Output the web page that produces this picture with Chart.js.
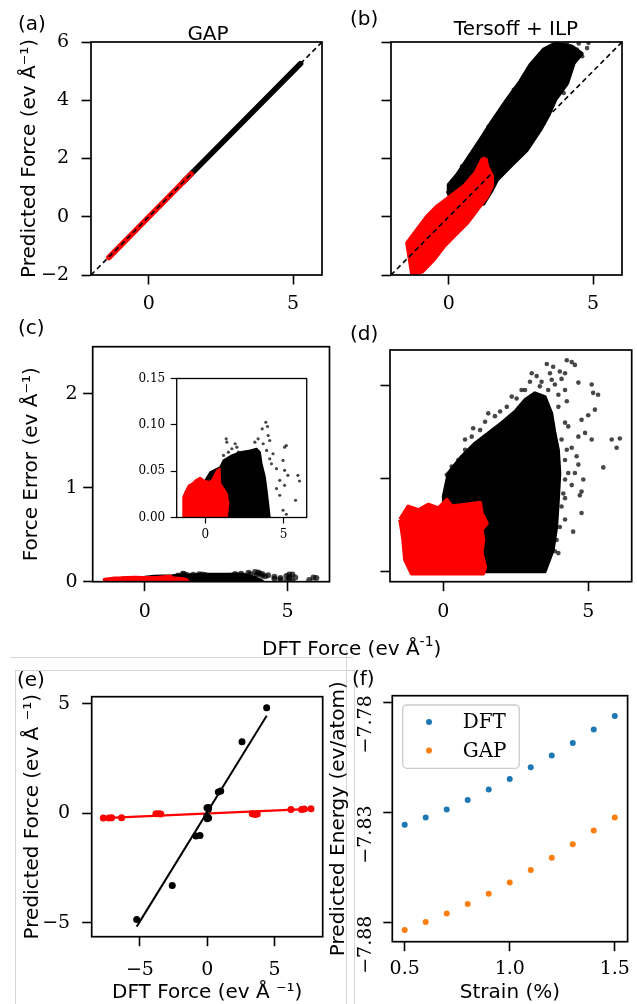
<!DOCTYPE html>
<html lang="en">
<head>
<meta charset="UTF-8">
<title>GAP vs Tersoff + ILP forces</title>
<script src="https://cdn.jsdelivr.net/npm/chart.js"></script>
<style>
  body { margin: 0; background: #fff; font-family: 'DejaVu Sans', sans-serif; }
  #page { position: relative; width: 637px; height: 1004px; overflow: hidden; }
  canvas { position: absolute; }
  .lbl { position: absolute; font-size: 20px; line-height: 20px; color: #000; white-space: nowrap; }
  .lbl sup { font-size: 14px; line-height: 0; vertical-align: 9px; }
  .rule { position: absolute; background: #d6d6d6; }
</style>
</head>
<body>
<div id="page">
  <!-- light frame lines left over from the composed figure -->
  <div class="rule" style="left:10px;top:657px;width:343px;height:1px"></div>
  <div class="rule" style="left:15px;top:670px;width:340px;height:1px"></div>
  <div class="rule" style="left:15px;top:670px;width:1px;height:334px"></div>
  <div class="rule" style="left:354px;top:670px;width:1px;height:334px"></div>
  <div class="rule" style="left:346px;top:650px;width:1px;height:354px"></div>

  <canvas id="pa" width="330" height="320" style="left:0;top:0"></canvas>
  <canvas id="pb" width="307" height="320" style="left:330px;top:0"></canvas>
  <canvas id="pc" width="340" height="330" style="left:0;top:310px"></canvas>
  <canvas id="pd" width="297" height="330" style="left:340px;top:310px"></canvas>
  <canvas id="pinset" width="205" height="185" style="left:110px;top:365px"></canvas>
  <canvas id="pe" width="340" height="344" style="left:0;top:660px"></canvas>
  <canvas id="pf" width="317" height="344" style="left:320px;top:660px"></canvas>

  <div class="lbl" style="left:18px;top:13px">(a)</div>
  <div class="lbl" style="left:158px;top:23px;width:100px;text-align:center">GAP</div>
  <div class="lbl" style="left:350px;top:8px">(b)</div>
  <div class="lbl" style="left:436px;top:18px;width:160px;text-align:center">Tersoff + ILP</div>
  <div class="lbl" style="left:18px;top:317px">(c)</div>
  <div class="lbl" style="left:350px;top:323px">(d)</div>
  <div class="lbl" style="left:262px;top:638px">DFT Force (ev Å<sup>-1</sup>)</div>
  <div class="lbl" style="left:17px;top:669px">(e)</div>
  <div class="lbl" style="left:352px;top:668px">(f)</div>
</div>

<script>
    const SANS = "'DejaVu Sans', sans-serif";
    const SERIF = "'DejaVu Serif', serif";

    // ---- (a) GAP: predicted vs DFT force ----
    const diagX = [-2, 6];
    const diagY = [-2, 6];
    const aBlackX = [1.20, 5.26];
    const aBlackY = [1.20, 5.26];
    const aRedX = [-1.38, 1.47];
    const aRedY = [-1.40, 1.47];
    const forceTicksX = [0, 5];
    const forceTicksY = [-2, 0, 2, 4, 6];

    // ---- (b) Tersoff + ILP: outlines of the dense clouds + loose points ----
    const bBlackCloud = [[0.10, 0.55], [-0.02, 0.85], [0.00, 1.10], [0.29, 1.44], [0.64, 1.96], [1.10, 2.65],
        [1.50, 3.27], [2.02, 4.02], [2.48, 4.65], [2.83, 5.22], [3.29, 5.74], [3.70, 5.95], [4.25, 5.85],
        [4.60, 5.60], [4.33, 5.28], [4.10, 4.59], [3.69, 4.02], [3.46, 3.50], [3.17, 2.99], [2.71, 2.30],
        [2.13, 1.73], [1.67, 1.27], [1.50, 0.93], [1.20, 0.45]];
    const bBlackLoose = [[4.44, 5.74], [4.79, 5.79], [4.84, 5.97], [4.62, 5.51], [4.33, 5.33], [3.98, 5.11],
        [3.81, 4.76], [4.04, 4.53], [3.92, 5.85], [3.69, 5.28], [0.12, 1.21], [0.46, 1.73], [1.16, 2.65],
        [2.60, 4.82], [4.50, 5.95], [4.10, 5.98], [0.75, 2.07], [0.98, 2.42], [1.38, 3.10], [1.85, 3.68],
        [2.25, 4.36], [2.71, 4.88], [3.06, 5.39], [3.98, 4.25], [3.29, 3.22], [2.37, 2.07], [1.90, 1.62]];
    const bRedCloud = [[1.27, 2.02], [1.33, 1.73], [1.50, 1.39], [1.50, 1.07], [1.33, 0.70], [0.98, 0.24],
        [0.64, -0.21], [0.17, -0.67], [-0.17, -1.02], [-0.52, -1.47], [-0.92, -1.88], [-1.27, -1.97],
        [-1.33, -1.59], [-1.44, -0.90], [-1.09, -0.44], [-0.75, 0.01], [-0.40, 0.36], [0.06, 0.70],
        [0.52, 1.04], [0.92, 1.50], [1.16, 1.96]];

    // ---- (c) GAP force error (main plot and inset share the same data) ----
    const cRedCloud = [[-1.37, 0.0], [-1.41, 0.022], [-1.27, 0.0275], [-1.06, 0.0347], [-0.84, 0.0365],
        [-0.63, 0.0401], [-0.32, 0.043], [-0.11, 0.0401], [0.21, 0.0383], [0.42, 0.0401], [0.74, 0.0509],
        [0.91, 0.0527], [0.95, 0.0365], [1.16, 0.0312], [1.37, 0.0258], [1.47, 0.015], [1.37, 0.0]];
    const cBlackCloud = [[0.0, 0.0], [0.0, 0.0401], [0.32, 0.049], [0.95, 0.0544], [1.16, 0.0616],
        [1.69, 0.067], [2.22, 0.0705], [2.85, 0.0724], [3.27, 0.0742], [3.48, 0.0705], [3.59, 0.058],
        [3.80, 0.0437], [3.91, 0.0294], [4.01, 0.015], [4.11, 0.0]];
    const cBlackLoose = [[3.86, 0.1028], [3.97, 0.0982], [3.63, 0.0957], [4.01, 0.0885], [4.11, 0.0831],
        [5.06, 0.0759], [5.17, 0.0777], [1.33, 0.0849], [1.37, 0.0813], [1.69, 0.0742], [1.90, 0.0796],
        [2.01, 0.0759], [2.11, 0.0705], [3.16, 0.0813], [3.37, 0.0849], [3.69, 0.0796], [4.11, 0.0634],
        [4.22, 0.058], [4.54, 0.0527], [4.96, 0.0616], [5.06, 0.0509], [5.27, 0.0455], [5.91, 0.0455],
        [6.01, 0.0394], [5.76, 0.0186], [5.06, 0.0347], [4.75, 0.024], [4.54, 0.0312], [4.96, 0.0078],
        [5.17, 0.0035], [1.16, 0.067], [1.47, 0.0705], [4.75, 0.0401], [4.32, 0.0688], [3.91, 0.0724]];
    const errTicksY = [0, 1, 2];
    const insetTicksY = [0, 0.05, 0.10, 0.15];

    // ---- (d) Tersoff + ILP force error ----
    const dBlackCloud = [[0.06, 0.0], [0.00, 0.81], [0.17, 1.06], [0.63, 1.24], [1.09, 1.38], [1.55, 1.49],
        [2.01, 1.60], [2.47, 1.72], [2.82, 1.85], [3.16, 1.92], [3.51, 1.88], [3.74, 1.70], [3.85, 1.49],
        [3.97, 1.31], [4.02, 1.06], [3.97, 0.77], [3.91, 0.48], [3.79, 0.23], [3.51, 0.0]];
    const dBlackLoose = [[3.57, 2.23], [3.79, 2.20], [4.26, 2.27], [4.43, 2.25], [4.54, 2.22], [3.05, 2.13],
        [3.39, 2.04], [3.74, 2.06], [4.08, 2.07], [4.20, 1.95], [4.66, 2.03], [5.12, 2.01], [5.17, 1.92],
        [5.34, 1.90], [4.26, 1.83], [3.97, 1.90], [2.36, 1.88], [2.70, 1.95], [1.96, 1.72], [1.55, 1.70],
        [1.03, 1.54], [0.75, 1.42], [1.44, 1.61], [4.77, 1.63], [5.23, 1.74], [5.00, 1.68], [4.89, 1.49],
        [4.66, 1.45], [5.12, 1.42], [5.81, 1.42], [6.09, 1.43], [5.98, 1.33], [4.43, 1.33], [4.60, 1.24],
        [4.66, 1.15], [5.52, 1.12], [4.54, 1.06], [4.83, 0.99], [4.43, 0.93], [4.20, 0.79], [4.77, 0.86],
        [4.71, 0.82], [4.77, 0.63], [4.48, 0.43], [3.97, 0.20], [3.74, 0.34], [0.40, 0.84], [0.17, 0.95],
        [0.46, 1.08], [0.12, 1.04], [0.75, 1.31], [0.52, 1.20], [0.29, 1.13], [0.23, 0.99], [0.98, 1.45],
        [1.27, 1.52], [1.78, 1.67], [2.19, 1.77], [2.53, 1.86], [2.82, 1.95], [2.99, 2.04], [3.22, 2.10],
        [3.33, 1.99], [3.62, 1.95], [3.85, 2.01], [4.02, 2.15], [4.20, 2.13], [3.68, 2.13], [3.97, 1.77],
        [4.20, 1.60], [4.31, 1.56], [4.08, 1.42], [4.26, 1.31], [4.20, 1.20], [4.31, 1.06], [4.20, 0.99],
        [4.14, 0.84], [4.08, 0.70], [4.20, 0.56], [4.02, 0.48], [3.91, 0.34], [3.85, 0.22], [3.62, 0.13]];
    const dRedCloud = [[-1.49, 0.56], [-1.21, 0.70], [-0.86, 0.66], [-0.52, 0.72], [-0.17, 0.68], [0.12, 0.77],
        [0.29, 0.70], [0.75, 0.72], [1.27, 0.74], [1.32, 0.63], [1.50, 0.52], [1.32, 0.45], [1.38, 0.34],
        [1.32, 0.20], [1.44, 0.05], [1.38, -0.02], [-1.09, -0.02], [-1.32, 0.13], [-1.38, 0.34], [-1.43, 0.45]];

    // ---- (e) single-configuration test ----
    const eBlackDft = [-5.24, -2.60, -0.84, -0.54, -0.02, 0.10, 0.08, -0.03, 0.00, 0.10, 0.82, 1.00, 2.58, 4.41];
    const eBlackPred = [-4.85, -3.30, -1.04, -1.01, 0.25, 0.27, 0.18, -0.12, -0.25, -0.22, 0.97, 1.02, 3.27, 4.83];
    const eRedDft = [-7.72, -7.30, -7.10, -6.36, -3.81, -3.60, -3.45, 3.34, 3.55, 3.71, 6.21, 7.00, 7.20, 7.70];
    const eRedPred = [-0.21, -0.22, -0.20, -0.20, -0.02, -0.02, -0.03, -0.02, -0.05, -0.03, 0.17, 0.17, 0.20, 0.21];
    const eBlackFitX = [-5.24, 4.41];
    const eBlackFitY = [-5.18, 4.46];
    const eRedFitX = [-7.72, 7.70];
    const eRedFitY = [-0.22, 0.20];
    const eTicks = [-5, 0, 5];

    // ---- (f) energy vs strain ----
    const strain = [0.5, 0.6, 0.7, 0.8, 0.9, 1.0, 1.1, 1.2, 1.3, 1.4, 1.5];
    const dftEnergy = [-7.8355, -7.8322, -7.8286, -7.8243, -7.8196, -7.8148, -7.8095, -7.8041, -7.7985, -7.7923, -7.7862];
    const gapEnergy = [-7.8833, -7.8797, -7.8758, -7.8715, -7.8668, -7.8617, -7.8561, -7.8505, -7.8444, -7.8382, -7.8322];
    const strainTicks = [0.5, 1.0, 1.5];
    const energyTicks = [-7.88, -7.83, -7.78];

    // ---------- helpers ----------
    function fmt(v, dec) {
        return (v < 0 ? '\u2212' : '') + Math.abs(v).toFixed(dec);
    }
    function pts(pairs) { return pairs.map(p => ({ x: p[0], y: p[1] })); }
    function xy(xs, ys) { return xs.map((x, i) => ({ x: x, y: ys[i] })); }

    // filled outline of a dense point cloud
    function cloud(pairs, color, bw, order) {
        return {
            data: pts(pairs.concat([pairs[0]])), showLine: true, fill: 'shape',
            backgroundColor: color, borderColor: color, borderWidth: bw,
            borderJoinStyle: 'round', pointRadius: 0, order: order
        };
    }
    function dots(data, color, r, order) {
        return { data: data, backgroundColor: color, borderWidth: 0, pointRadius: r, order: order };
    }
    function line(xs, ys, color, width, dash, order, cap) {
        return {
            data: xy(xs, ys), showLine: true, fill: false, borderColor: color, borderWidth: width,
            borderDash: dash || [], borderCapStyle: cap || 'butt', pointRadius: 0, order: order
        };
    }

    function axis(min, max, ticks, o) {
        return {
            type: 'linear', min: min, max: max,
            afterBuildTicks: s => { s.ticks = ticks.map(v => ({ value: v })); },
            afterFit: s => { if (s.isHorizontal()) s.height = o.size; else s.width = o.size; },
            grid: { drawOnChartArea: false, drawTicks: true, tickLength: o.tick || 9.5, tickWidth: o.tickWidth || 1.6, tickColor: '#000' },
            border: { display: false },
            ticks: {
                display: o.labels !== false, autoSkip: false, maxRotation: 0, color: '#000',
                font: { family: SERIF, size: o.font || 19 }, padding: o.pad,
                callback: v => fmt(v, o.dec || 0)
            },
            title: o.title ? {
                display: true, text: o.title, color: '#000',
                font: { family: SANS, size: 20, lineHeight: 1 }, padding: o.titlePad
            } : { display: false }
        };
    }

    // plot box drawn on top like matplotlib spines
    Chart.register({
        id: 'frame',
        afterDraw(chart, args, opts) {
            const a = chart.chartArea, ctx = chart.ctx;
            ctx.save();
            ctx.strokeStyle = '#000';
            ctx.lineWidth = opts.width || 1.7;
            ctx.strokeRect(a.left, a.top, a.right - a.left, a.bottom - a.top);
            ctx.restore();
        }
    });

    function panel(id, datasets, x, y, padding, extraPlugins, frameWidth) {
        return new Chart(document.getElementById(id), {
            type: 'scatter',
            data: { datasets: datasets },
            options: {
                responsive: false, animation: false, events: [],
                layout: { padding: padding },
                scales: { x: x, y: y },
                plugins: { legend: { display: false }, tooltip: { enabled: false }, frame: { width: frameWidth } }
            },
            plugins: extraPlugins || []
        });
    }

    const RED = '#ff0000';
    const BLACK = '#000000';
    const LOOSE = 'rgba(0,0,0,0.72)';

    // (a)
    panel('pa', [
        line(diagX, diagY, BLACK, 1.6, [5, 3.5], 0),
        line(aRedX, aRedY, RED, 5.5, null, 1, 'round'),
        line(aBlackX, aBlackY, BLACK, 5.5, null, 2, 'round')
    ],
        axis(-2, 6, forceTicksX, { size: 45, pad: 8 }),
        axis(-2, 6, forceTicksY, { size: 91, pad: 12.5, title: 'Predicted Force (ev Å⁻¹)', titlePad: { top: 20, bottom: 0 } }),
        { left: 0, right: 8, top: 42, bottom: 0 });

    // (b)
    panel('pb', [
        line(diagX, diagY, BLACK, 1.6, [5, 3.5], 0),
        cloud(bRedCloud, RED, 4, 1),
        cloud(bBlackCloud, BLACK, 4, 2),
        dots(pts(bBlackLoose), LOOSE, 2.3, 3)
    ],
        axis(-2, 6, forceTicksX, { size: 45, pad: 8 }),
        axis(-2, 6, forceTicksY, { size: 61, labels: false }),
        { left: 0, right: 15, top: 42, bottom: 0 });

    // (c) main
    panel('pc', [
        cloud(cRedCloud, RED, 4, 1),
        cloud(cBlackCloud, BLACK, 4.5, 2),
        dots(pts(cBlackLoose), LOOSE, 3, 3)
    ],
        axis(-1.83, 6.47, forceTicksX, { size: 58.3, pad: 9.4 }),
        axis(0, 2.5, errTicksY, { size: 92.7, pad: 5.5, title: 'Force Error (ev Å⁻¹)', titlePad: { top: 22, bottom: 0 } }),
        { left: 0, right: 10.5, top: 36.7, bottom: 0 });

    // (c) inset
    panel('pinset', [
        cloud(cRedCloud, RED, 2, 1),
        cloud(cBlackCloud, BLACK, 2, 2),
        dots(pts(cBlackLoose), LOOSE, 1.6, 3)
    ],
        axis(-1.83, 6.47, forceTicksX, { size: 32.5, tick: 6, tickWidth: 1.2, font: 12, pad: 4.3 }),
        axis(0, 0.15, insetTicksY, { size: 66.7, tick: 6, tickWidth: 1.2, font: 12, pad: 5.5, dec: 2 }),
        { left: 0, right: 8.3, top: 13.5, bottom: 0 }, [], 1.3);

    // (d)
    panel('pd', [
        cloud(dRedCloud, RED, 4, 1),
        cloud(dBlackCloud, BLACK, 3, 2),
        dots(pts(dBlackLoose), LOOSE, 2.3, 3)
    ],
        axis(-1.84, 6.5, forceTicksX, { size: 58.3, pad: 9.4 }),
        axis(-0.107, 2.38, errTicksY, { size: 50, labels: false }),
        { left: 0, right: 5.3, top: 40, bottom: 0 });

    // (e)
    panel('pe', [
        dots(xy(eBlackDft, eBlackPred), BLACK, 3.5, 0),
        dots(xy(eRedDft, eRedPred), RED, 3.5, 1),
        line(eBlackFitX, eBlackFitY, BLACK, 2, null, 2),
        line(eRedFitX, eRedFitY, RED, 2.2, null, 3)
    ],
        axis(-8.58, 8.57, eTicks, { size: 67.3, pad: 12.9, title: 'DFT Force (ev Å ⁻¹)', titlePad: { top: 0, bottom: 1 } }),
        axis(-5.64, 5.33, eTicks, { size: 91.7, pad: 12, title: 'Predicted Force (ev Å ⁻¹)', titlePad: { top: 23, bottom: 0 } }),
        { left: 0, right: 17.3, top: 36.7, bottom: 0 });

    // (f): rotated y tick labels and an inset legend box
    const rotatedYLabels = {
        id: 'rotatedYLabels',
        afterDraw(chart) {
            const s = chart.scales.y, ctx = chart.ctx;
            ctx.save();
            ctx.fillStyle = '#000';
            ctx.font = '19px ' + SERIF;
            ctx.textAlign = 'center';
            ctx.textBaseline = 'middle';
            s.ticks.forEach(t => {
                ctx.save();
                ctx.translate(s.right - 26.3, s.getPixelForValue(t.value) + 22);
                ctx.rotate(-Math.PI / 2);
                ctx.fillText(fmt(t.value, 2), 0, 0);
                ctx.restore();
            });
            ctx.restore();
        }
    };
    const boxLegend = {
        id: 'boxLegend',
        afterDraw(chart) {
            const a = chart.chartArea, ctx = chart.ctx;
            const x = a.left + 10.4, y = a.top + 9.3, w = 116.6, h = 63.3;
            ctx.save();
            ctx.beginPath();
            ctx.roundRect(x, y, w, h, 4);
            ctx.fillStyle = 'rgba(255,255,255,0.8)';
            ctx.fill();
            ctx.strokeStyle = '#cccccc';
            ctx.lineWidth = 1.3;
            ctx.stroke();
            ctx.font = '20px ' + SERIF;
            ctx.textBaseline = 'middle';
            chart.data.datasets.forEach((ds, i) => {
                const cy = y + 17 + i * 28.6;
                ctx.beginPath();
                ctx.arc(x + 26.3, cy, 3, 0, 2 * Math.PI);
                ctx.fillStyle = ds.backgroundColor;
                ctx.fill();
                ctx.fillStyle = '#000';
                ctx.fillText(ds.label, x + 60, cy + 1);
            });
            ctx.restore();
        }
    };
    const fDatasets = [
        Object.assign(dots(xy(strain, dftEnergy), '#1f77b4', 3, 0), { label: 'DFT' }),
        Object.assign(dots(xy(strain, gapEnergy), '#ff7f0e', 3, 1), { label: 'GAP' })
    ];
    panel('pf', fDatasets,
        axis(0.441, 1.561, strainTicks, { size: 62.3, pad: 6.9, dec: 1, title: 'Strain (%)', titlePad: { top: 0, bottom: 1 } }),
        axis(-7.8886, -7.777, energyTicks, { size: 72.3, labels: false, tick: 9, title: 'Predicted Energy (ev/atom)', titlePad: { top: 9, bottom: 0 } }),
        { left: 0, right: 2, top: 35.7, bottom: 0 }, [rotatedYLabels, boxLegend]);
</script>
</body>
</html>
